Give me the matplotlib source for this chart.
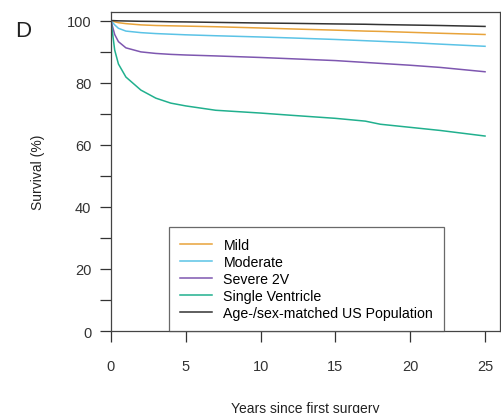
import numpy as np
import matplotlib.pyplot as plt

plt.rcParams['font.family'] = ['Liberation Sans', 'DejaVu Sans']

# survival curves (years, %)
years = [0, 0.25, 0.5, 1, 2, 3, 4, 5, 7, 10, 12, 15, 17, 18, 20, 22, 25]
mild = [100, 99.6, 99.3, 99.0, 98.6, 98.4, 98.3, 98.2, 98.0, 97.6, 97.3, 96.9, 96.6, 96.5, 96.2, 95.9, 95.5]
moderate = [100, 98.6, 97.5, 96.6, 96.1, 95.8, 95.6, 95.4, 95.1, 94.7, 94.4, 93.9, 93.5, 93.3, 92.9, 92.4, 91.7]
severe = [100, 95.5, 93.2, 91.2, 89.9, 89.4, 89.1, 88.9, 88.6, 88.1, 87.7, 87.1, 86.5, 86.2, 85.6, 84.9, 83.5]
single = [100, 90.5, 86.0, 81.8, 77.6, 75.0, 73.4, 72.5, 71.1, 70.2, 69.5, 68.5, 67.6, 66.6, 65.6, 64.6, 62.8]
us_pop = [100, 99.95, 99.9, 99.85, 99.75, 99.7, 99.6, 99.55, 99.4, 99.2, 99.1, 98.9, 98.8, 98.7, 98.55, 98.4, 98.1]

labels = ["Mild", "Moderate", "Severe 2V", "Single Ventricle", "Age-/sex-matched US Population"]
colors = ["#E8A33A", "#5BC3E6", "#7E57B0", "#21B08E", "#333333"]
series = [mild, moderate, severe, single, us_pop]

fig = plt.figure(figsize=(5.02, 4.14), dpi=100)
ax = fig.add_axes([0.221, 0.198, 0.775, 0.771])

for s, c, lab in zip(series, colors, labels):
    ax.plot(years, s, color=c, lw=1.1, label=lab)

ax.set_xlim(0, 26)
ax.set_ylim(0, 102.8)
ax.set_xticks([0, 5, 10, 15, 20, 25])
ax.set_yticks(np.arange(0, 101, 10))
ax.set_yticklabels([str(v) if v % 20 == 0 else "" for v in range(0, 101, 10)])
ax.tick_params(direction='out', length=8, width=0.9, labelsize=10.5, colors='#333333')
ax.tick_params(axis='x', pad=12)
ax.tick_params(axis='y', pad=6)
for sp in ax.spines.values():
    sp.set_color('#444444')
    sp.set_linewidth(0.9)

ax.set_xlabel("Years since first surgery", fontsize=10, labelpad=20, color='#222222')
ax.set_ylabel("Survival (%)", fontsize=10, labelpad=16, color='#222222')

leg = ax.legend(loc='lower left', bbox_to_anchor=(0.149, 0.0), borderaxespad=0,
                fontsize=10.2, frameon=True, fancybox=False, edgecolor='#444444',
                handlelength=2.3, labelspacing=0.22, borderpad=0.75, handletextpad=0.8)
leg.get_frame().set_linewidth(0.9)

fig.text(0.03, 0.91, "D", fontsize=16, color='#222222')

fig.savefig("out.png", dpi=100)
